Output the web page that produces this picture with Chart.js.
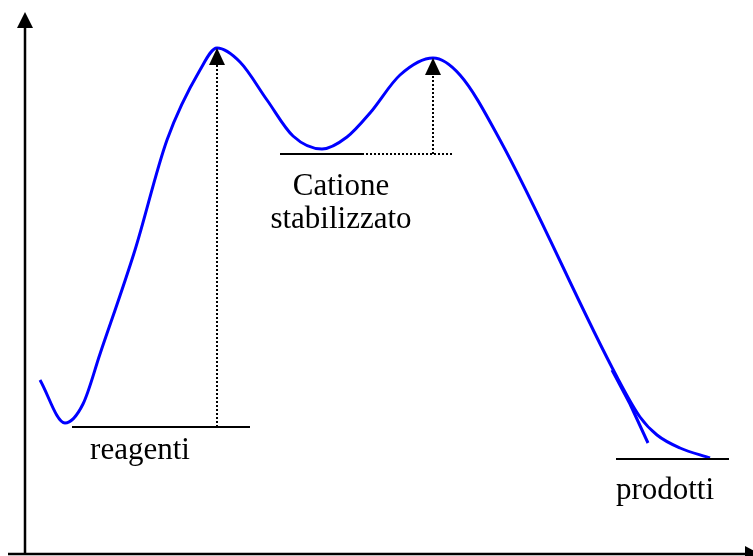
<!DOCTYPE html>
<html>
<head>
<meta charset="utf-8">
<script src="https://cdn.jsdelivr.net/npm/chart.js@4.4.1/dist/chart.umd.min.js"></script>
<style>
  html, body { margin: 0; padding: 0; background: #fff; }
  canvas { display: block; }
</style>
</head>
<body>
<canvas id="chart" width="753" height="556"></canvas>
<script>
// reaction coordinate (x) and energy (E)
const curveX = [15, 40, 58, 75, 110, 142, 175, 192, 215, 242, 268, 297, 322, 345, 375, 408, 435, 475, 592, 615, 632, 655, 685];
const curveE = [174, 131, 150, 200, 304, 414, 484, 506, 492, 454, 418, 405, 417, 441, 479, 496, 479, 414, 177, 137, 119, 106, 96];

// the short stray stroke near the products
const strayX = [587, 605, 623];
const strayE = [184, 150, 111];

// energy levels
const levelE = [127, 400, 95];
const levelFrom = [47, 255, 591];
const levelTo = [225, 337, 704];

// labels
const labelLines = [["reagenti"], ["Catione", "stabilizzato"], ["prodotti"]];
const labelX = [115, 316, 640];
const labelE = [95, 359, 55];

// dotted arrows (activation energies)
const arrowX = [192, 408];
const arrowFromE = [127, 400];
const arrowToE = [506, 496];
const dottedFromX = 337;
const dottedToX = 428;

function arrowHead(ctx, tx, ty, dir, len, half) {
    ctx.beginPath();
    if (dir === "up") {
        ctx.moveTo(tx, ty);
        ctx.lineTo(tx - half, ty + len);
        ctx.lineTo(tx + half, ty + len);
    } else {
        ctx.moveTo(tx, ty);
        ctx.lineTo(tx - len, ty - half);
        ctx.lineTo(tx - len, ty + half);
    }
    ctx.closePath();
    ctx.fill();
}

const diagram = {
    id: "diagram",
    afterDraw(chart) {
        const ctx = chart.ctx;
        const x = chart.scales.x, y = chart.scales.y;
        const px = v => x.getPixelForValue(v);
        const py = v => y.getPixelForValue(v);
        ctx.save();
        ctx.strokeStyle = "#000";
        ctx.fillStyle = "#000";

        // axes
        ctx.lineWidth = 2.5;
        ctx.beginPath();
        ctx.moveTo(px(0), py(0));
        ctx.lineTo(px(0), py(527));
        ctx.moveTo(px(-17), py(0));
        ctx.lineTo(px(722), py(0));
        ctx.stroke();
        arrowHead(ctx, px(0), py(542), "up", 16, 8);
        arrowHead(ctx, px(735), py(0), "right", 15, 8);

        // levels
        ctx.lineWidth = 2;
        ctx.beginPath();
        levelE.forEach((e, i) => {
            ctx.moveTo(px(levelFrom[i]), py(e));
            ctx.lineTo(px(levelTo[i]), py(e));
        });
        ctx.stroke();

        // dotted lines
        ctx.setLineDash([2, 2]);
        ctx.beginPath();
        arrowX.forEach((ax, i) => {
            ctx.moveTo(px(ax), py(arrowFromE[i]));
            ctx.lineTo(px(ax), py(arrowToE[i] - 16));
        });
        ctx.moveTo(px(dottedFromX), py(levelE[1]));
        ctx.lineTo(px(dottedToX), py(levelE[1]));
        ctx.stroke();
        ctx.setLineDash([]);
        arrowX.forEach((ax, i) => arrowHead(ctx, px(ax), py(arrowToE[i]), "up", 17, 8));

        // labels
        ctx.font = "31px 'Liberation Serif', 'Times New Roman', serif";
        ctx.textAlign = "center";
        ctx.textBaseline = "alphabetic";
        labelLines.forEach((lines, i) => {
            lines.forEach((t, j) => ctx.fillText(t, px(labelX[i]), py(labelE[i]) + j * 33));
        });
        ctx.restore();
    }
};

new Chart(document.getElementById("chart"), {
    type: "line",
    data: {
        datasets: [
            {
                data: curveX.map((v, i) => ({ x: v, y: curveE[i] })),
                borderColor: "#0000ff",
                borderWidth: 3,
                pointRadius: 0,
                cubicInterpolationMode: "monotone",
                fill: false
            },
            {
                data: strayX.map((v, i) => ({ x: v, y: strayE[i] })),
                borderColor: "#0000ff",
                borderWidth: 3,
                pointRadius: 0,
                tension: 0,
                fill: false
            }
        ]
    },
    options: {
        responsive: false,
        animation: false,
        devicePixelRatio: 1,
        layout: { padding: 0 },
        plugins: { legend: { display: false }, tooltip: { enabled: false } },
        scales: {
            x: { type: "linear", min: -25, max: 728, display: false },
            y: { type: "linear", min: -2, max: 554, display: false }
        }
    },
    plugins: [diagram]
});
</script>
</body>
</html>
